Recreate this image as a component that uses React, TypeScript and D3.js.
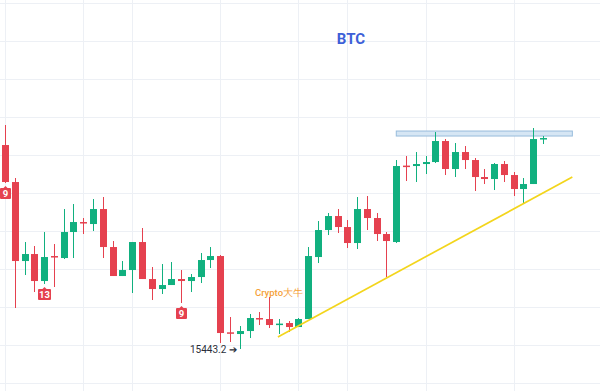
import React from "react";
import * as d3 from "d3";

// OHLC (price per candle)
const opens = [16871, 16612, 16059, 16108, 15919, 16094, 16080, 16262, 16332, 16318, 16423, 16157, 15954, 15996, 16192, 15933, 15863, 15891, 15933, 15919, 15947, 16066, 16094, 15560, 15548, 15569, 15660, 15653, 15615, 15625, 15597, 15653, 16087, 16276, 16374, 16297, 16185, 16423, 16360, 16248, 16192, 16727, 16724, 16738, 16752, 16899, 16703, 16822, 16766, 16647, 16633, 16738, 16661, 16563, 16598, 16917];
const highs = [17011, 16640, 16192, 16164, 16262, 16178, 16423, 16458, 16360, 16493, 16507, 16199, 16059, 16192, 16290, 16017, 16038, 16052, 15996, 15968, 16115, 16157, 16101, 15667, 15604, 15688, 15702, 15807, 15653, 15639, 15660, 16157, 16339, 16395, 16423, 16346, 16507, 16514, 16395, 16262, 16766, 16794, 16822, 16794, 16962, 16913, 16885, 16864, 16780, 16703, 16745, 16759, 16682, 16640, 16990, 16934];
const lows = [16605, 15730, 15961, 15842, 15898, 15877, 16073, 16080, 16248, 16269, 16080, 15954, 15954, 15835, 15933, 15786, 15828, 15891, 15765, 15842, 15905, 16010, 15485, 15492, 15443.2, 15520, 15611, 15590, 15548, 15562, 15597, 15653, 16045, 16241, 16255, 16150, 16143, 16276, 16199, 15947, 16185, 16619, 16612, 16668, 16745, 16661, 16647, 16703, 16549, 16598, 16556, 16612, 16514, 16465, 16598, 16878];
const closes = [16612, 16059, 16108, 15919, 16087, 16087, 16262, 16332, 16325, 16423, 16157, 15954, 15996, 16192, 15933, 15863, 15891, 15933, 15919, 15947, 16066, 16094, 15555, 15555, 15569, 15660, 15653, 15611, 15621, 15597, 15653, 16094, 16276, 16374, 16297, 16185, 16423, 16360, 16248, 16199, 16724, 16720, 16738, 16752, 16899, 16703, 16822, 16766, 16647, 16633, 16738, 16661, 16563, 16598, 16913, 16920];

// sequential count marks: candle index, label
const countIdx = [0, 4, 18];
const countText = ["9", "13", "9"];

const gridPrices = [15205, 15471, 15737, 16003, 16269, 16535, 16801, 17067, 17333, 17599, 17865];
const gridIdx = [0, 8, 13, 22, 30, 35, 43, 52];

// drawings
const trendIdx = [27.9, 58];
const trendPrice = [15527, 16647];
const bandIdx = [40, 58];
const bandPrice = [16934, 16969];

const lowLabel = "15443.2";
const lowIdx = 24;

const W = 600;
const H = 391;
const UP = "#11b07f";
const DOWN = "#e5414f";

export default function App() {
  const x = d3.scaleLinear().domain([0, 55]).range([5, 543]);
  const y = d3.scaleLinear().domain([15443.2, 17011.2]).range([349, 125]);
  const bw = 7;

  const candles = opens.map((o, i) => ({ o, h: highs[i], l: lows[i], c: closes[i] }));

  const trend = d3.line<number>()
    .x((d) => x(trendIdx[d]))
    .y((d) => y(trendPrice[d]));

  const tagPath = (cx: number, top: number, w: number, h: number) => {
    const l = cx - w / 2;
    const r = cx + w / 2;
    const p = d3.path();
    p.moveTo(l + 1, top);
    p.lineTo(cx - 2, top);
    p.lineTo(cx, top - 2);
    p.lineTo(cx + 2, top);
    p.lineTo(r - 1, top);
    p.quadraticCurveTo(r, top, r, top + 1);
    p.lineTo(r, top + h - 1);
    p.quadraticCurveTo(r, top + h, r - 1, top + h);
    p.lineTo(l + 1, top + h);
    p.quadraticCurveTo(l, top + h, l, top + h - 1);
    p.lineTo(l, top + 1);
    p.quadraticCurveTo(l, top, l + 1, top);
    p.closePath();
    return p.toString();
  };

  return (
    <svg width={W} height={H} style={{ position: "absolute", left: 0, top: 0, background: "#fff" }}
      fontFamily="Roboto, 'Noto Sans', sans-serif">
      <g className="grid" stroke="#edf0f5" strokeWidth={1}>
        {gridPrices.map((p, i) => (
          <line key={"h" + i} x1={0} x2={W} y1={Math.round(y(p)) + 0.5} y2={Math.round(y(p)) + 0.5} />
        ))}
        {gridIdx.map((d, i) => (
          <line key={"v" + i} x1={Math.round(x(d)) + 0.5} x2={Math.round(x(d)) + 0.5} y1={0} y2={H} />
        ))}
      </g>

      <text x={351} y={44} textAnchor="middle" fontSize={15} fontWeight="bold" fill="#3d5fd8">BTC</text>

      <rect x={x(bandIdx[0])} y={y(bandPrice[1])} width={x(bandIdx[1]) - x(bandIdx[0])}
        height={y(bandPrice[0]) - y(bandPrice[1])} fill="#d6e6f4" stroke="#98bcdc" strokeWidth={1} />

      <g className="candles">
        {candles.map((d, i) => {
          const up = d.c >= d.o;
          const col = up ? UP : DOWN;
          const cx = Math.round(x(i));
          const top = y(Math.max(d.o, d.c));
          const bot = y(Math.min(d.o, d.c));
          return (
            <g key={i}>
              <line x1={cx + 0.5} x2={cx + 0.5} y1={y(d.h)} y2={y(d.l)} stroke={col} strokeWidth={1} />
              <rect x={cx - 3} y={top} width={bw} height={Math.max(1.5, bot - top)} fill={col} />
            </g>
          );
        })}
      </g>

      <path d={trend([0, 1]) || ""} stroke="#f3d51c" strokeWidth={1.7} fill="none" />

      <g className="counts">
        {countIdx.map((d, i) => {
          const cx = Math.round(x(d)) + 0.5;
          const top = y(lows[d]) + 5;
          const w = countText[i].length > 1 ? 13 : 11;
          return (
            <g key={i}>
              <path d={tagPath(cx, top, w, 11)} fill={DOWN} />
              <text x={cx} y={top + 9} textAnchor="middle" fontSize={9.5} fontWeight="bold" fill="#fff">{countText[i]}</text>
            </g>
          );
        })}
      </g>

      <text x={x(lowIdx) - 3} y={y(15443.2) + 4} textAnchor="end" fontSize={10} fill="#2a2e39">
        {lowLabel} ➔
      </text>

      <text x={279} y={296} textAnchor="middle" fontSize={9.5} fontWeight={500} fill="#f5a13a">Crypto大牛</text>
    </svg>
  );
}
